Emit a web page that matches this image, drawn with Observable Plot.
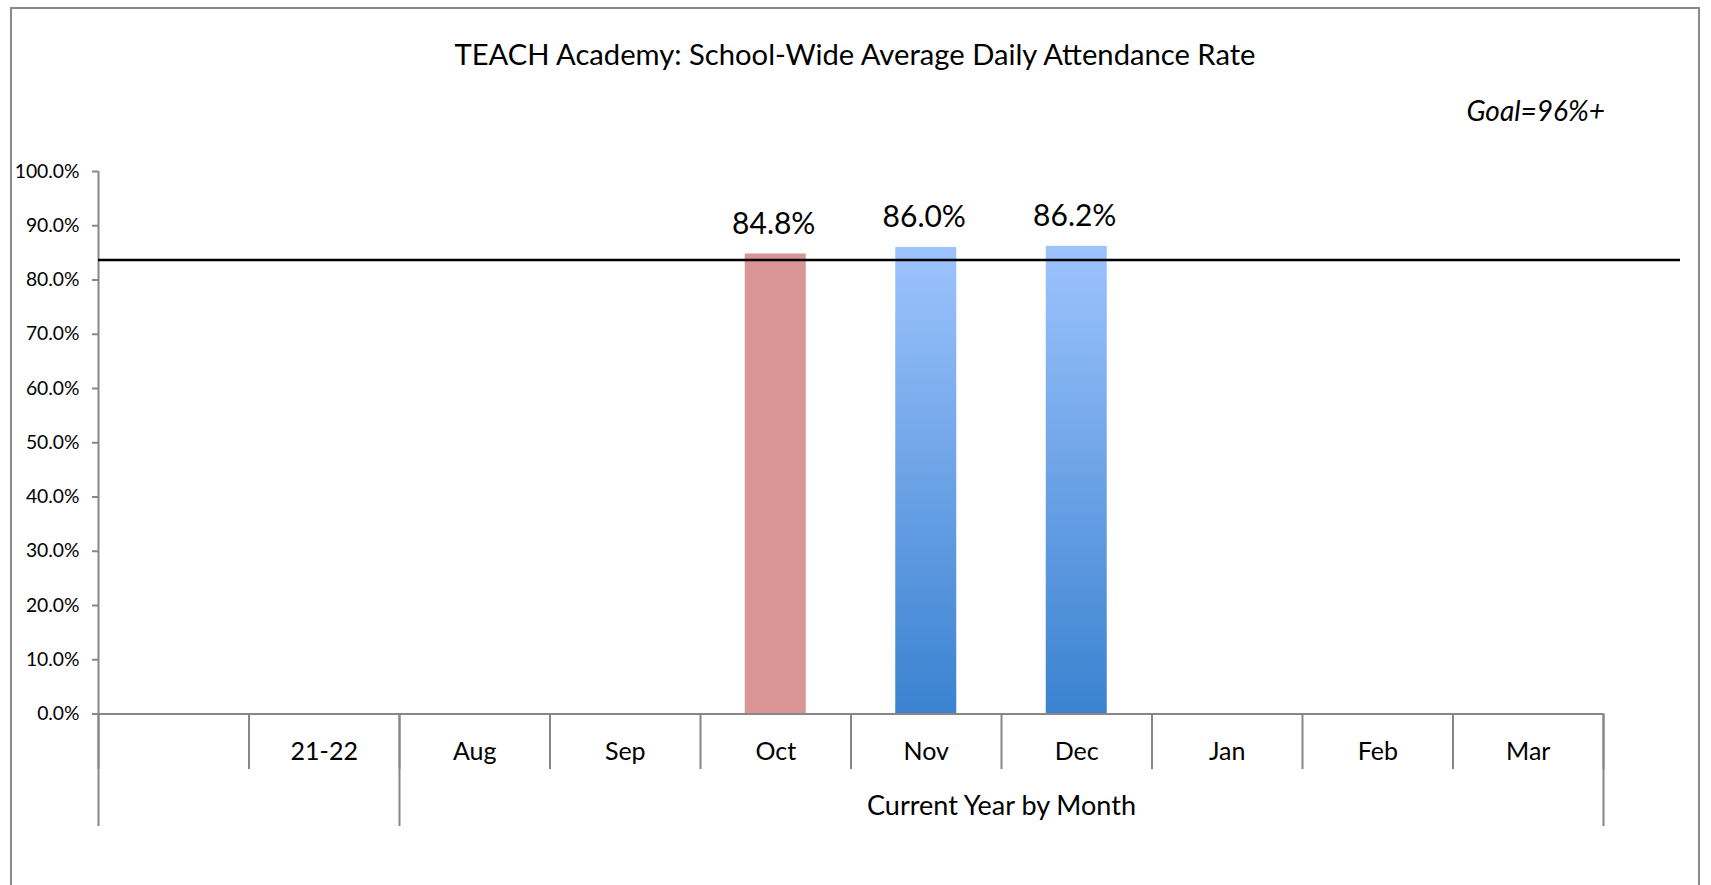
<!DOCTYPE html>
<html>
<head>
<meta charset="utf-8">
<script src="https://cdn.jsdelivr.net/npm/d3@7"></script>
<script src="https://cdn.jsdelivr.net/npm/@observablehq/plot@0.6"></script>
<style>
  html, body { margin: 0; padding: 0; overflow: hidden; background: #fff; width: 1711px; height: 885px; }
  #box { position: absolute; left: 10px; top: 7px; width: 1690px; height: 900px; border: 2px solid #8a8a8a; box-sizing: border-box; }
  #title { position: absolute; left: 10px; width: 1690px; top: 36px; text-align: center; font-family: Lato, sans-serif; font-size: 29.2px; line-height: 1.2; color: #000; white-space: nowrap; }
  #goal { position: absolute; right: 106px; top: 94px; font-family: Lato, sans-serif; font-style: italic; font-size: 28px; line-height: 1.2; color: #000; white-space: nowrap; }
  #chart { position: absolute; left: 0; top: 0; }
</style>
</head>
<body>
<div id="box"></div>
<div id="title">TEACH Academy: School-Wide Average Daily Attendance Rate</div>
<div id="goal">Goal=96%+</div>
<div id="chart"></div>
<script>
// ---- data ----
const categories = ["", "21-22", "Aug", "Sep", "Oct", "Nov", "Dec", "Jan", "Feb", "Mar"];
const attendance = [null, null, null, null, 0.848, 0.860, 0.862, null, null, null];
const goalLine = 0.837;
const yTicks = [0, 0.1, 0.2, 0.3, 0.4, 0.5, 0.6, 0.7, 0.8, 0.9, 1.0];
const groupLabels = ["", "Current Year by Month"];
const groupFirst = ["", "Aug"];
const groupSpan = [2, 8];
const belowThreshold = 0.85;

const rows = categories.map((c, i) => ({month: c, value: attendance[i]})).filter(d => d.value != null);
const groups = groupLabels.map((g, i) => ({label: g, first: groupFirst[i], span: groupSpan[i]}));

// ---- layout ----
const W = 1711, H = 885;
const mL = 98, mR = 31, mT = 171, mB = 171.5;
const xEnd = 1603;
const bw = (xEnd - mL) / categories.length;
const frameW = W - mL - mR, frameH = H - mT - mB;
const gray = "#878787";
const lastCat = categories[categories.length - 1];

const chart = Plot.plot({
  width: W, height: H,
  marginLeft: mL, marginRight: mR, marginTop: mT, marginBottom: mB,
  style: {fontFamily: "Lato, sans-serif", color: "#000", background: "transparent", overflow: "visible"},
  x: {type: "band", domain: categories, range: [mL, xEnd], padding: 0, round: false, axis: null},
  y: {domain: [0, 1], axis: null},
  marks: [
    // bars
    Plot.barY(rows.filter(d => d.value < belowThreshold), {x: "month", y: "value", fill: "#d99694", insetLeft: 44.75, insetRight: 44.75}),
    Plot.barY(rows.filter(d => d.value >= belowThreshold), {x: "month", y: "value", fill: "url(#blueGrad)", insetLeft: 44.75, insetRight: 44.75}),
    // y axis line
    Plot.ruleX([categories[0]], {x: d => d, dx: -bw / 2, stroke: gray, strokeWidth: 2}),
    // y ticks
    Plot.ruleY(yTicks, {y: d => d, insetLeft: -6, insetRight: frameW, stroke: gray, strokeWidth: 2}),
    Plot.text(yTicks, {y: d => d, text: d => d3.format(".1%")(d), frameAnchor: "left", textAnchor: "end", dx: -19, fontSize: 19.3, lineAnchor: "middle"}),
    // baseline
    Plot.ruleY([0], {insetRight: W - mR - xEnd, stroke: gray, strokeWidth: 2}),
    // level-1 category boundaries
    Plot.ruleX(categories, {x: d => d, dx: -bw / 2, insetTop: frameH, insetBottom: -55.5, stroke: gray, strokeWidth: 2}),
    Plot.ruleX([lastCat], {x: d => d, dx: bw / 2, insetTop: frameH, insetBottom: -55.5, stroke: gray, strokeWidth: 2}),
    // level-2 group boundaries
    Plot.ruleX(groupFirst, {x: d => d, dx: -bw / 2, insetTop: frameH, insetBottom: -112.5, stroke: gray, strokeWidth: 2}),
    Plot.ruleX([lastCat], {x: d => d, dx: bw / 2, insetTop: frameH, insetBottom: -112.5, stroke: gray, strokeWidth: 2}),
    // category labels
    Plot.text(categories, {x: d => d, y: () => 0, text: d => d, dy: 37.5, fontSize: 25, lineAnchor: "middle"}),
    // group labels, centred on their span of categories
    ...groups.map(g => Plot.text([g], {x: "first", y: () => 0, text: "label", dx: (g.span - 1) * bw / 2, dy: 92.5, fontSize: 27, lineAnchor: "middle"})),
    // goal line
    Plot.ruleY([goalLine], {stroke: "#000", strokeWidth: 2.5}),
    // data labels
    Plot.text(rows, {x: "month", y: "value", text: d => d3.format(".1%")(d.value), dy: -20, dx: -2, fontSize: 30, lineAnchor: "bottom"})
  ]
});

const defs = d3.select(chart).insert("defs", ":first-child");
const grad = defs.append("linearGradient").attr("id", "blueGrad").attr("x1", 0).attr("y1", 0).attr("x2", 0).attr("y2", 1);
grad.append("stop").attr("offset", "0%").attr("stop-color", "#9dc3fd");
grad.append("stop").attr("offset", "100%").attr("stop-color", "#3a82d0");

document.getElementById("chart").appendChild(chart);
</script>
</body>
</html>
